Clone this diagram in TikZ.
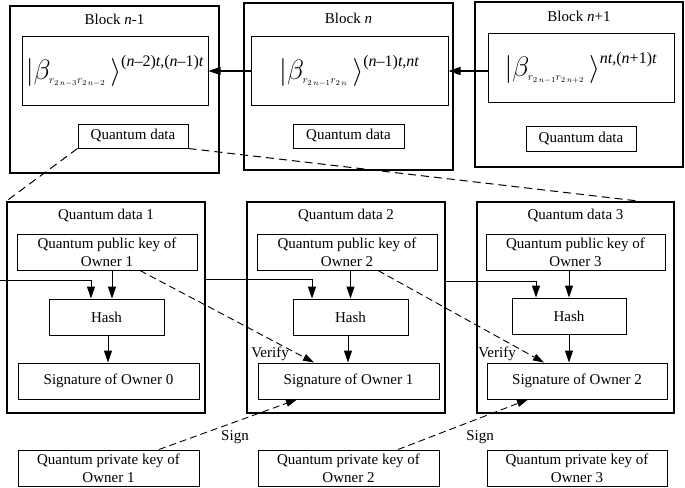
\RequirePackage{fix-cm}
\documentclass[tikz,border=0pt]{standalone}
\usepackage{amsmath}
\usepackage{fontspec}
\setmainfont{Liberation Serif}
\usetikzlibrary{arrows.meta}
\newcommand{\qket}[2]{{\fontsize{28}{28}\selectfont$\left|\beta_{\hbox{\fontsize{11}{11}\selectfont$#1$}}\,\right\rangle^{\hbox{\fontsize{16}{16}\selectfont #2}}$}}
\begin{document}
\begin{tikzpicture}[x=1pt,y=-1pt,
  font=\fontsize{15}{18}\selectfont,
  outerbox/.style={draw, line width=1.6pt, inner sep=0pt},
  inbox/.style={draw, line width=1pt, inner sep=0pt, align=center},
  lbl/.style={inner sep=0pt},
  arr/.style={line width=1pt, -{Triangle[length=12pt,width=8pt]}},
  darr/.style={line width=0.9pt, dash pattern=on 7pt off 4pt, -{Triangle[length=11pt,width=7pt]}},
  dline/.style={line width=1pt, dash pattern=on 8pt off 5pt}]
\useasboundingbox (0,0) rectangle (685,487);
\fill[white] (0,0) rectangle (685,487);

% ---------- top blocks ----------
\node[outerbox, minimum width=209pt, minimum height=167pt] (B1) at (114.5,89.5) {};
\node[outerbox, minimum width=209pt, minimum height=167pt] (B2) at (348.5,86.5) {};
\node[outerbox, minimum width=208pt, minimum height=165pt] (B3) at (579,84.5) {};

\node[lbl] (B1t) at (114.5,19) {Block \textit{n}-1};
\node[lbl] (B2t) at (348.5,18) {Block \textit{n}};
\node[lbl] (B3t) at (579,16) {Block \textit{n}+1};

\node[inbox, minimum width=186pt, minimum height=68pt] (B1in) at (115,71)
  {\qket{r_{2\,n-3}r_{2\,n-2}}{(\textit{n}\textendash2)\textit{t},(\textit{n}\textendash1)\textit{t}}};
\node[inbox, minimum width=197pt, minimum height=68pt] (B2in) at (349.5,71)
  {\qket{r_{2\,n-1}r_{2\,n}}{(\textit{n}\textendash1)\textit{t},\textit{nt}}};
\node[inbox, minimum width=186pt, minimum height=68pt] (B3in) at (581,68)
  {\qket{r_{2\,n-1}r_{2\,n+2}}{\textit{nt},(\textit{n}+1)\textit{t}}};

\node[inbox, minimum width=110pt, minimum height=24pt] (B1qd) at (133,136) {Quantum data};
\node[inbox, minimum width=111pt, minimum height=24pt] (B2qd) at (348.5,136) {Quantum data};
\node[inbox, minimum width=110pt, minimum height=25pt] (B3qd) at (581,138.5) {Quantum data};

\draw[arr] (B2in.west) -- (B1in.east);
\draw[arr] (B3in.west |- B2in.east) -- (B2in.east);

% ---------- quantum data boxes ----------
\node[outerbox, minimum width=198pt, minimum height=211pt] (Q1) at (106,307.5) {};
\node[outerbox, minimum width=198pt, minimum height=211pt] (Q2) at (346,307.5) {};
\node[outerbox, minimum width=197pt, minimum height=211pt] (Q3) at (575.5,307.5) {};

\node[lbl] (Q1t) at (106,216) {Quantum data 1};
\node[lbl] (Q2t) at (346,216) {Quantum data 2};
\node[lbl] (Q3t) at (575.5,216) {Quantum data 3};

\node[inbox, minimum width=180pt, minimum height=36pt] (pub1) at (107,252) {Quantum public key of\\Owner 1};
\node[inbox, minimum width=180pt, minimum height=36pt] (pub2) at (347,252) {Quantum public key of\\Owner 2};
\node[inbox, minimum width=179pt, minimum height=36pt] (pub3) at (575.5,252) {Quantum public key of\\Owner 3};

\node[inbox, minimum width=115pt, minimum height=36pt] (h1) at (106.5,317) {Hash};
\node[inbox, minimum width=115pt, minimum height=36pt] (h2) at (350.5,317) {Hash};
\node[inbox, minimum width=114pt, minimum height=36pt] (h3) at (569,316) {Hash};

\node[inbox, minimum width=181pt, minimum height=36pt] (s1) at (108.5,381) {Signature of Owner 0};
\node[inbox, minimum width=181pt, minimum height=36pt] (s2) at (348.5,381) {Signature of Owner 1};
\node[inbox, minimum width=180pt, minimum height=36pt] (s3) at (577,381) {Signature of Owner 2};

\node[inbox, minimum width=181pt, minimum height=36pt] (pk1) at (108.5,468) {Quantum private key of\\Owner 1};
\node[inbox, minimum width=181pt, minimum height=36pt] (pk2) at (348.5,468) {Quantum private key of\\Owner 2};
\node[inbox, minimum width=180pt, minimum height=36pt] (pk3) at (577,468) {Quantum private key of\\Owner 3};

% pub -> hash, hash -> sig
\draw[arr] ([xshift=5.5pt]h1.north |- pub1.south) -- ([xshift=5.5pt]h1.north);
\draw[arr] (h2.north |- pub2.south) -- (h2.north);
\draw[arr] (h3.north |- pub3.south) -- (h3.north);
\draw[arr] ([xshift=1.5pt]h1.south) -- ([xshift=1.5pt]h1.south |- s1.north);
\draw[arr] ([xshift=-2.5pt]h2.south) -- ([xshift=-2.5pt]h2.south |- s2.north);
\draw[arr] (h3.south) -- (h3.south |- s3.north);

% chain lines
\coordinate (in0) at (0,280);
\draw[arr] (in0) -| ([xshift=-15.5pt]h1.north);
\draw[arr] ([yshift=28.5pt]Q1.east) -| ([xshift=-38.5pt]h2.north);
\draw[arr] ([yshift=26.5pt]Q2.east) -| ([xshift=-33pt]h3.north);

% verify
\draw[darr] ([xshift=33pt]pub1.south) -- ([xshift=-34.5pt]s2.north);
\draw[darr] ([xshift=31pt]pub2.south) -- ([xshift=-33pt]s3.north);
\node[lbl] (v1) at (270,354) {Verify};
\node[lbl] (v2) at (497,354) {Verify};

% sign
\draw[darr] ([xshift=50.5pt]pk1.north) -- ([xshift=-51.5pt]s2.south);
\draw[darr] ([xshift=49.5pt]pk2.north) -- ([xshift=-49pt]s3.south);
\node[lbl] (sg1) at (235,437) {Sign};
\node[lbl] (sg2) at (480,437) {Sign};

% quantum data expansion
\coordinate (q3top) at ([xshift=64.5pt]Q3.north);
\draw[dline] (B1qd.south west) -- (Q1.north west);
\draw[dline] (B1qd.south east) -- (q3top);
\end{tikzpicture}
\end{document}
